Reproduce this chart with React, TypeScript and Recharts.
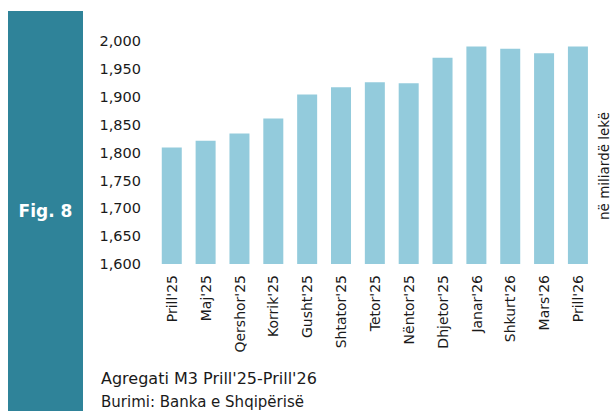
import React from "react";
import { BarChart, Bar, XAxis, YAxis } from "recharts";

const categories = [
  "Prill'25", "Maj'25", "Qershor'25", "Korrik'25", "Gusht'25", "Shtator'25",
  "Tetor'25", "Nëntor'25", "Dhjetor'25", "Janar'26", "Shkurt'26", "Mars'26", "Prill'26",
];
const m3Values = [1809, 1821, 1834, 1861, 1904, 1917, 1926, 1924, 1970, 1990, 1986, 1978, 1990];
const yTicks = [1600, 1650, 1700, 1750, 1800, 1850, 1900, 1950, 2000];

const data = categories.map((c, i) => ({ name: c, value: m3Values[i] }));

const FONT = "'DejaVu Sans', sans-serif";
const TEXT = "#1a1a1a";

const XTick = (props: any) => {
  const { x, y, payload } = props;
  return (
    <text
      x={x}
      y={y}
      dy="0.36em"
      transform={`rotate(-90 ${x} ${y})`}
      textAnchor="end"
      fontFamily={FONT}
      fontSize={14}
      fill={TEXT}
    >
      {payload.value}
    </text>
  );
};

export default function App() {
  return (
    <div style={{ position: "fixed", left: 0, top: 0, width: 612, height: 411, background: "#fff", overflow: "hidden" }}>
      <div style={{ position: "absolute", left: 0, top: 0 }}>
        <BarChart
          width={612}
          height={411}
          data={data}
          margin={{ top: 41, right: 17, bottom: 67, left: 95 }}
          barCategoryGap="20%"
        >
          <XAxis
            dataKey="name"
            interval={0}
            height={80}
            axisLine={false}
            tickLine={false}
            tickSize={0}
            tickMargin={11}
            tick={<XTick />}
          />
          <YAxis
            width={60}
            domain={[1600, 2000]}
            ticks={yTicks}
            interval={0}
            axisLine={false}
            tickLine={false}
            tickSize={6}
            tickMargin={8}
            tickFormatter={(v: number) => v.toLocaleString("en-US")}
            tick={{ fontFamily: FONT, fontSize: 14.5, fill: TEXT }}
          />
          <Bar dataKey="value" fill="#93CBDC" isAnimationActive={false} />
        </BarChart>
      </div>
      <svg width={612} height={411} style={{ position: "absolute", left: 0, top: 0, pointerEvents: "none" }}>
        <rect x={8} y={11} width={75} height={400} fill="#2F8399" />
        <text x={45.5} y={217} textAnchor="middle" fontFamily={FONT} fontWeight="bold" fontSize={17} fill="#ffffff">
          Fig. 8
        </text>
        <text
          x={604}
          y={166}
          transform="rotate(-90 604 166)"
          textAnchor="middle"
          dominantBaseline="central"
          fontFamily={FONT}
          fontSize={13.5}
          fill={TEXT}
        >
          në miliardë lekë
        </text>
        <text x={101} y={384} fontFamily={FONT} fontSize={16} fill={TEXT}>
          Agregati M3 Prill'25-Prill'26
        </text>
        <text x={101} y={407} fontFamily={FONT} fontSize={15} fill={TEXT}>
          Burimi: Banka e Shqipërisë
        </text>
      </svg>
    </div>
  );
}
